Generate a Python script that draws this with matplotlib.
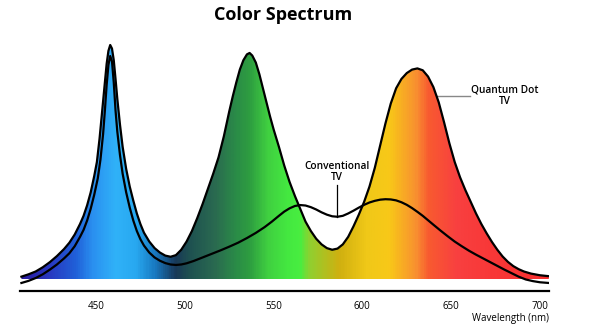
import numpy as np
import matplotlib
matplotlib.use("Agg")
import matplotlib.pyplot as plt
from matplotlib.colors import LinearSegmentedColormap
from matplotlib.patches import Polygon

plt.rcParams['font.family'] = ['Open Sans', 'DejaVu Sans']

# Quantum Dot TV spectrum (relative intensity)
wl_qd = [408, 412, 416, 420, 424, 428, 432, 435, 438, 441, 443, 445, 447, 449,
         450.5, 452, 453.5, 455, 456, 457, 458, 459, 460, 461, 462, 463.5, 465,
         467, 469, 471, 473, 475, 477, 480, 483, 486, 489, 492, 495, 498, 501,
         504, 507, 510, 513, 516, 519, 522, 525, 527, 529, 531, 533, 535, 536.5,
         538, 540, 542, 544, 546, 548, 550, 553, 556, 559, 562, 565, 568, 571,
         574, 577, 580, 583, 586, 589, 592, 595, 598, 601, 604, 607, 610, 613,
         616, 619, 622, 625, 628, 631, 634, 637, 640, 643, 646, 649, 652, 655,
         658, 661, 664, 667, 670, 673, 676, 679, 682, 685, 688, 691, 695, 700, 705]
qd = [0.010, 0.020, 0.032, 0.050, 0.072, 0.098, 0.128, 0.155, 0.190, 0.235, 0.270, 0.315, 0.370, 0.440,
      0.50, 0.60, 0.72, 0.84, 0.92, 0.975, 1.000, 0.985, 0.935, 0.855, 0.77, 0.66, 0.565,
      0.47, 0.395, 0.335, 0.280, 0.235, 0.198, 0.160, 0.132, 0.113, 0.100, 0.095, 0.102, 0.125, 0.160,
      0.205, 0.260, 0.320, 0.385, 0.450, 0.520, 0.610, 0.715, 0.780, 0.840, 0.895, 0.935, 0.960, 0.966,
      0.955, 0.925, 0.875, 0.815, 0.755, 0.695, 0.640, 0.565, 0.485, 0.415, 0.355, 0.300, 0.245, 0.205,
      0.172, 0.148, 0.132, 0.125, 0.130, 0.148, 0.180, 0.225, 0.275, 0.330, 0.395, 0.475, 0.570, 0.665,
      0.750, 0.815, 0.855, 0.880, 0.895, 0.900, 0.892, 0.865, 0.820, 0.755, 0.670, 0.580, 0.500, 0.435,
      0.380, 0.330, 0.280, 0.235, 0.195, 0.158, 0.125, 0.096, 0.073, 0.055, 0.042, 0.032, 0.023, 0.016, 0.012]

# Conventional TV spectrum
wl_conv = [408, 412, 416, 420, 424, 428, 432, 435, 438, 441, 443, 445, 447, 449,
           451, 452.5, 454, 455, 456, 457, 458, 459, 460, 461, 462, 463.5, 465,
           467, 469, 471, 473, 475, 477, 480, 483, 486, 489, 492, 495, 498, 501,
           505, 510, 515, 520, 525, 530, 535, 540, 545, 549, 553, 556, 559, 562,
           565, 568, 571, 574, 577, 580, 583, 586, 589, 592, 595, 598, 601, 604,
           607, 610, 613, 616, 619, 622, 625, 628, 631, 634, 637, 640, 644, 648,
           652, 656, 660, 664, 668, 672, 676, 680, 684, 688, 692, 696, 700, 705]
conv = [-0.017, -0.008, 0.004, 0.020, 0.040, 0.062, 0.088, 0.110, 0.140, 0.180, 0.210, 0.250, 0.300, 0.360,
        0.430, 0.510, 0.620, 0.720, 0.830, 0.915, 0.953, 0.930, 0.840, 0.720, 0.630, 0.530, 0.450,
        0.370, 0.305, 0.250, 0.205, 0.170, 0.143, 0.113, 0.092, 0.078, 0.068, 0.062, 0.060, 0.062, 0.067,
        0.077, 0.092, 0.107, 0.122, 0.138, 0.155, 0.175, 0.197, 0.222, 0.245, 0.270, 0.288, 0.302, 0.312,
        0.316, 0.314, 0.307, 0.297, 0.285, 0.275, 0.268, 0.266, 0.270, 0.280, 0.292, 0.305, 0.317, 0.327,
        0.334, 0.339, 0.341, 0.340, 0.336, 0.328, 0.317, 0.303, 0.287, 0.270, 0.251, 0.232, 0.207, 0.183,
        0.160, 0.140, 0.121, 0.104, 0.088, 0.072, 0.056, 0.040, 0.025, 0.010, -0.002, -0.009, -0.014, -0.017]

# spectrum colours along the wavelength axis
grad_wl = [407, 423, 438, 447.7, 460.7, 472, 483, 494.5, 502, 517, 528, 536.7,
           546.8, 558, 565, 570.5, 587.4, 602.6, 615.5, 630.7, 638, 653.3, 671.8, 706]
grad_colors = ['#2a1aa0', '#2838c0', '#2060d8', '#2a90f0', '#30b2f8', '#28a8f0',
               '#1878c0', '#183858', '#1e5050', '#2a6a50', '#2a8a48', '#2e9e40',
               '#40d040', '#44e840', '#48ee40', '#90d030', '#d0b010', '#f0c818',
               '#f8c818', '#f89030', '#f85a30', '#f84040', '#f83838', '#f83030']

ticks = [450, 500, 550, 600, 650, 700]

fig = plt.figure(figsize=(5.9, 3.29), dpi=100)
ax = fig.add_axes([20 / 590, 38 / 329, 529 / 590, 251 / 329])
ax.set_xlim(407.2, 705.1)
ax.set_ylim(-0.0513, 1.0214)

# gradient fill clipped under QD curve
pos = (np.array(grad_wl) - grad_wl[0]) / (grad_wl[-1] - grad_wl[0])
cmap = LinearSegmentedColormap.from_list('spec', list(zip(pos, grad_colors)))
grad = np.linspace(0, 1, 600).reshape(1, -1)
im = ax.imshow(grad, aspect='auto', cmap=cmap,
               extent=[grad_wl[0], grad_wl[-1], 0, 1.05], zorder=1)
verts = [(wl_qd[0], 0)] + list(zip(wl_qd, qd)) + [(wl_qd[-1], 0)]
poly = Polygon(verts, closed=True, facecolor='none', edgecolor='none')
ax.add_patch(poly)
im.set_clip_path(poly)

ax.plot(wl_qd, qd, color='black', lw=1.6, solid_joinstyle='round', zorder=3)
ax.plot(wl_conv, conv, color='black', lw=1.6, solid_joinstyle='round', zorder=3)

# annotations
ax.text(585.7, 0.457, 'Conventional\nTV', ha='center', va='center', fontsize=7.3,
        fontweight='semibold', linespacing=1.05)
ax.plot([585.7, 585.7], [0.40, np.interp(585.7, wl_conv, conv)], color='black', lw=0.9, zorder=2)
ax.text(680.3, 0.782, 'Quantum Dot\nTV', ha='center', va='center', fontsize=7.3,
        fontweight='semibold', linespacing=1.05)
ax.plot([642, 660.6], [0.782, 0.782], color='#888888', lw=1.0, zorder=2)

for s in ['left', 'top', 'right']:
    ax.spines[s].set_visible(False)
ax.spines['bottom'].set_linewidth(1.6)
ax.set_xticks(ticks)
ax.set_yticks([])
ax.tick_params(axis='x', length=0, pad=7, labelsize=7)

fig.text(549 / 590, 1 - 319 / 329, 'Wavelength (nm)', ha='right', va='center', fontsize=7)
fig.text(283 / 590, 1 - 15 / 329, 'Color Spectrum', ha='center', va='center',
         fontsize=13, fontweight='bold')

fig.savefig('out.png', dpi=100)
